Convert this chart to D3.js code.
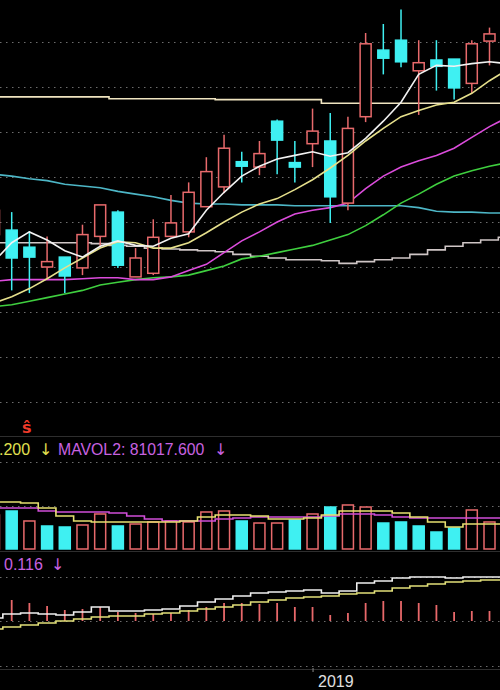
<!DOCTYPE html>
<html>
<head>
<meta charset="utf-8">
<script src="https://cdn.jsdelivr.net/npm/d3@7"></script>
<style>
  body { margin: 0; background: #000; }
  svg { display: block; }
</style>
</head>
<body>
<svg></svg>
<script>
// size of the svg
var width = 500;
var height = 690;

// daily candles, index 0 is the one cut off at the left edge
const open  = [9.86, 9.91, 9.72, 9.50, 9.61, 9.49, 9.84, 10.11, 9.39, 9.43, 9.84, 9.89, 10.17, 10.39, 10.67, 10.61, 11.12, 10.66, 10.87, 10.90, 10.21, 11.17, 11.91, 12.02, 11.68, 11.80, 11.81, 11.54, 12.01];
const high  = [10.19, 10.11, 9.90, 9.84, 9.61, 9.97, 10.19, 10.13, 9.71, 10.03, 10.30, 10.44, 10.72, 10.97, 10.78, 10.90, 11.14, 10.90, 11.26, 11.21, 11.17, 12.10, 12.20, 12.36, 12.02, 12.02, 11.81, 12.02, 12.16];
const low   = [9.80, 9.24, 9.21, 9.36, 9.21, 9.41, 9.72, 9.49, 9.39, 9.41, 9.83, 9.83, 10.17, 10.32, 10.44, 10.52, 10.53, 10.44, 10.61, 9.99, 10.13, 11.11, 11.64, 11.72, 11.19, 11.46, 11.36, 11.43, 11.74];
const close = [10.13, 9.60, 9.61, 9.56, 9.40, 9.86, 10.19, 9.52, 9.60, 9.83, 9.99, 10.33, 10.56, 10.82, 10.62, 10.76, 10.91, 10.61, 11.01, 10.28, 11.04, 11.98, 11.82, 11.78, 11.77, 11.73, 11.49, 11.98, 12.09];
const volume = [88800, 99300, 73200, 60100, 57500, 62700, 91500, 60100, 65300, 70600, 73200, 70600, 96700, 99300, 73200, 67900, 67900, 75800, 91500, 109700, 115000, 109700, 67900, 70600, 60100, 44400, 54900, 101900, 70600];

// price moving averages (one point more, runs off the right edge)
const ma5   = [9.56, 9.77, 9.89, 9.80, 9.68, 9.61, 9.73, 9.79, 9.74, 9.73, 9.82, 9.87, 10.13, 10.33, 10.51, 10.62, 10.70, 10.74, 10.78, 10.73, 10.77, 10.93, 11.12, 11.33, 11.64, 11.74, 11.73, 11.76, 11.78, 11.76];
const ma10  = [9.10, 9.17, 9.26, 9.37, 9.49, 9.60, 9.71, 9.78, 9.77, 9.71, 9.71, 9.77, 9.88, 10.00, 10.11, 10.20, 10.26, 10.36, 10.47, 10.60, 10.74, 10.90, 11.04, 11.17, 11.24, 11.30, 11.33, 11.43, 11.57, 11.69];
const ma20  = [9.34, 9.36, 9.36, 9.36, 9.36, 9.37, 9.38, 9.38, 9.36, 9.36, 9.39, 9.46, 9.53, 9.66, 9.79, 9.89, 10.00, 10.09, 10.13, 10.16, 10.21, 10.37, 10.51, 10.61, 10.68, 10.74, 10.82, 10.94, 11.06, 11.16];
const ma60  = [9.06, 9.08, 9.12, 9.16, 9.20, 9.24, 9.30, 9.33, 9.36, 9.38, 9.39, 9.41, 9.46, 9.51, 9.59, 9.62, 9.66, 9.70, 9.74, 9.80, 9.86, 9.96, 10.08, 10.21, 10.31, 10.42, 10.51, 10.57, 10.62, 10.66];
const ma120 = [10.53, 10.51, 10.48, 10.46, 10.42, 10.40, 10.38, 10.34, 10.31, 10.28, 10.24, 10.21, 10.20, 10.20, 10.19, 10.19, 10.19, 10.18, 10.18, 10.18, 10.18, 10.18, 10.18, 10.18, 10.16, 10.12, 10.11, 10.11, 10.10, 10.10];
const ma250 = [9.77, 9.77, 9.77, 9.77, 9.77, 9.77, 9.76, 9.74, 9.73, 9.71, 9.70, 9.69, 9.68, 9.67, 9.64, 9.62, 9.60, 9.58, 9.58, 9.57, 9.54, 9.56, 9.58, 9.60, 9.64, 9.69, 9.73, 9.77, 9.80, 9.83];
const maTop = [11.39, 11.39, 11.39, 11.39, 11.39, 11.39, 11.39, 11.37, 11.37, 11.37, 11.37, 11.37, 11.37, 11.36, 11.36, 11.36, 11.36, 11.36, 11.36, 11.32, 11.32, 11.32, 11.32, 11.32, 11.32, 11.32, 11.32, 11.32, 11.32, 11.32];

// volume averages
const mavol1 = [122800, 122800, 120200, 107100, 86200, 73200, 70600, 70600, 70600, 70600, 70600, 73200, 83600, 88800, 88800, 86200, 78400, 78400, 81000, 88800, 99300, 99300, 99300, 94100, 83600, 70600, 57500, 65300, 65300, 65300];
const mavol2 = [107100, 107100, 107100, 99300, 96700, 96700, 96700, 94100, 86200, 78400, 73200, 73200, 73200, 78400, 81000, 83600, 83600, 83600, 83600, 86200, 91500, 91500, 88800, 83600, 81000, 81000, 81000, 81000, 81000, 81000];

// lower indicator panel
const indWhite  = [0.03, 0.07, 0.08, 0.07, 0.06, 0.09, 0.14, 0.10, 0.10, 0.11, 0.12, 0.15, 0.19, 0.22, 0.25, 0.28, 0.29, 0.30, 0.31, 0.28, 0.30, 0.38, 0.40, 0.43, 0.44, 0.44, 0.43, 0.44, 0.44, 0.44];
const indYellow = [-0.08, -0.06, -0.04, -0.02, 0.00, 0.02, 0.04, 0.05, 0.05, 0.07, 0.08, 0.10, 0.12, 0.14, 0.16, 0.19, 0.21, 0.23, 0.24, 0.25, 0.27, 0.28, 0.30, 0.33, 0.35, 0.37, 0.39, 0.40, 0.41, 0.41];
const indBars   = [null, 0.21, 0.18, 0.15, 0.11, 0.12, 0.14, 0.09, 0.08, 0.07, 0.08, 0.11, 0.14, 0.18, 0.18, 0.17, 0.18, 0.14, 0.14, 0.06, 0.08, 0.18, 0.20, 0.20, 0.18, 0.16, 0.09, 0.10, 0.10];

// grid / labels
const priceGrid = [8, 8.5, 9, 9.5, 10, 10.5, 11, 11.5, 12];
const volGrid = [112000, 227000];
const indGrid = [-0.445, 0, 0.445];
const yearStart = 18;
const yearLabel = "2019";

const red = "#e86a6c";
const cyan = "#3ff0f2";
const font = "Liberation Sans, Arial, sans-serif";

var svg = d3.select("svg").attr("width", width).attr("height", height)
    .style("background", "#000");

// scales
let x = d3.scaleLinear().domain([0, 28]).range([-6, 489.5]);
let yPrice = d3.scaleLinear().domain([8, 12]).range([402, 42]);
let yVol = d3.scaleLinear().domain([0, 261300]).range([549, 449]);
let yInd = d3.scaleLinear().domain([-0.45, 0.44]).range([666, 577]);

// dotted grid lines
function grid(vals, scale) {
    svg.append("g").selectAll("line").data(vals).enter().append("line")
        .attr("x1", 0).attr("x2", width)
        .attr("y1", d => Math.round(scale(d)) + 0.5)
        .attr("y2", d => Math.round(scale(d)) + 0.5)
        .attr("stroke", "#6c6c6c")
        .attr("stroke-dasharray", "1.5,4.5");
}
grid(priceGrid, yPrice);
grid(volGrid, yVol);
grid(indGrid, yInd);

// panel separators
[436.5, 551.5, 669.5].forEach(y => {
    svg.append("line").attr("x1", 0).attr("x2", width).attr("y1", y).attr("y2", y)
        .attr("stroke", "#2e2e2e").attr("stroke-width", 1);
});

// moving average lines
function maLine(vals, scale, color, curve) {
    let line = d3.line()
        .x((d, i) => x(i))
        .y(d => scale(d))
        .curve(curve || d3.curveLinear);
    svg.append("path").datum(vals)
        .attr("d", line)
        .attr("fill", "none")
        .attr("stroke", color)
        .attr("stroke-width", 1.6);
}
maLine(maTop, yPrice, "#efe4c0", d3.curveStep);
maLine(ma250, yPrice, "#cfc6c6", d3.curveStep);
maLine(ma120, yPrice, "#4db6c6");
maLine(ma60, yPrice, "#3fcf3f");
maLine(ma20, yPrice, "#dc4cdc");

// candles
let candles = svg.append("g").selectAll("g").data(open).enter().append("g");
candles.append("line")
    .attr("x1", (d, i) => x(i)).attr("x2", (d, i) => x(i))
    .attr("y1", (d, i) => yPrice(high[i]))
    .attr("y2", (d, i) => yPrice(low[i]))
    .attr("stroke", (d, i) => close[i] >= open[i] ? red : cyan)
    .attr("stroke-width", 1.5);
candles.append("rect")
    .attr("x", (d, i) => x(i) - 5.5)
    .attr("width", 11)
    .attr("y", (d, i) => yPrice(Math.max(open[i], close[i])))
    .attr("height", (d, i) => Math.max(1.5, Math.abs(yPrice(open[i]) - yPrice(close[i]))))
    .attr("fill", (d, i) => close[i] >= open[i] ? "#000" : cyan)
    .attr("stroke", (d, i) => close[i] >= open[i] ? red : cyan)
    .attr("stroke-width", 1.5);

maLine(ma10, yPrice, "#e6e08c");
maLine(ma5, yPrice, "#f2f2f2");

// volume bars, coloured by close against the previous close
let volUp = (i) => i === 0 ? close[0] >= open[0] : close[i] >= close[i - 1];
svg.append("g").selectAll("rect").data(volume).enter().append("rect")
    .attr("x", (d, i) => x(i) - 5.5)
    .attr("width", 11)
    .attr("y", d => yVol(d))
    .attr("height", d => yVol(0) - yVol(d))
    .attr("fill", (d, i) => volUp(i) ? "#000" : cyan)
    .attr("stroke", (d, i) => volUp(i) ? red : cyan)
    .attr("stroke-width", 1.5);

maLine(mavol2, yVol, "#d04ed8", d3.curveStep);
maLine(mavol1, yVol, "#e6e070", d3.curveStep);

// lower indicator bars
let bars = indBars.map((v, i) => ({ i: i, v: v })).filter(d => d.v !== null);
svg.append("g").selectAll("line").data(bars).enter().append("line")
    .attr("x1", d => x(d.i)).attr("x2", d => x(d.i))
    .attr("y1", yInd(0)).attr("y2", d => yInd(d.v))
    .attr("stroke", "#e8686a")
    .attr("stroke-width", 1.8);

maLine(indYellow, yInd, "#e2e07a", d3.curveStep);
maLine(indWhite, yInd, "#f0f0f0", d3.curveStep);

// year axis
let xAxis = d3.axisBottom(x).tickValues([yearStart]).tickSize(4).tickFormat(() => yearLabel);
let ax = svg.append("g").attr("transform", "translate(0,668)").call(xAxis);
ax.select(".domain").remove();
ax.selectAll("line").attr("stroke", "#888");
ax.selectAll("text")
    .attr("text-anchor", "start")
    .attr("x", 5).attr("y", 19).attr("dy", 0)
    .style("font-family", font)
    .style("font-size", "16px")
    .attr("fill", "#e0e0e0");

// texts
function label(xp, y, txt, color, size, family) {
    svg.append("text")
        .attr("x", xp).attr("y", y)
        .style("font-family", family || font)
        .style("font-size", size)
        .attr("fill", color)
        .text(txt);
}
svg.append("text")
    .attr("x", 22).attr("y", 433)
    .style("font-family", "DejaVu Sans, sans-serif")
    .style("font-size", "16px").style("font-weight", "bold")
    .attr("fill", "#f03a2a")
    .text("ŝ");

label(-1, 455, ".200", "#e2e050", "16px");
label(39, 455, "↓", "#e2e050", "16px", "DejaVu Sans, sans-serif");
label(58, 455, "MAVOL2: 81017.600", "#c862e0", "15.8px");
label(214, 455, "↓", "#c862e0", "16px", "DejaVu Sans, sans-serif");
label(4, 570, "0.116", "#c862e0", "16px");
label(51, 570, "↓", "#c862e0", "16px", "DejaVu Sans, sans-serif");
</script>
</body>
</html>
